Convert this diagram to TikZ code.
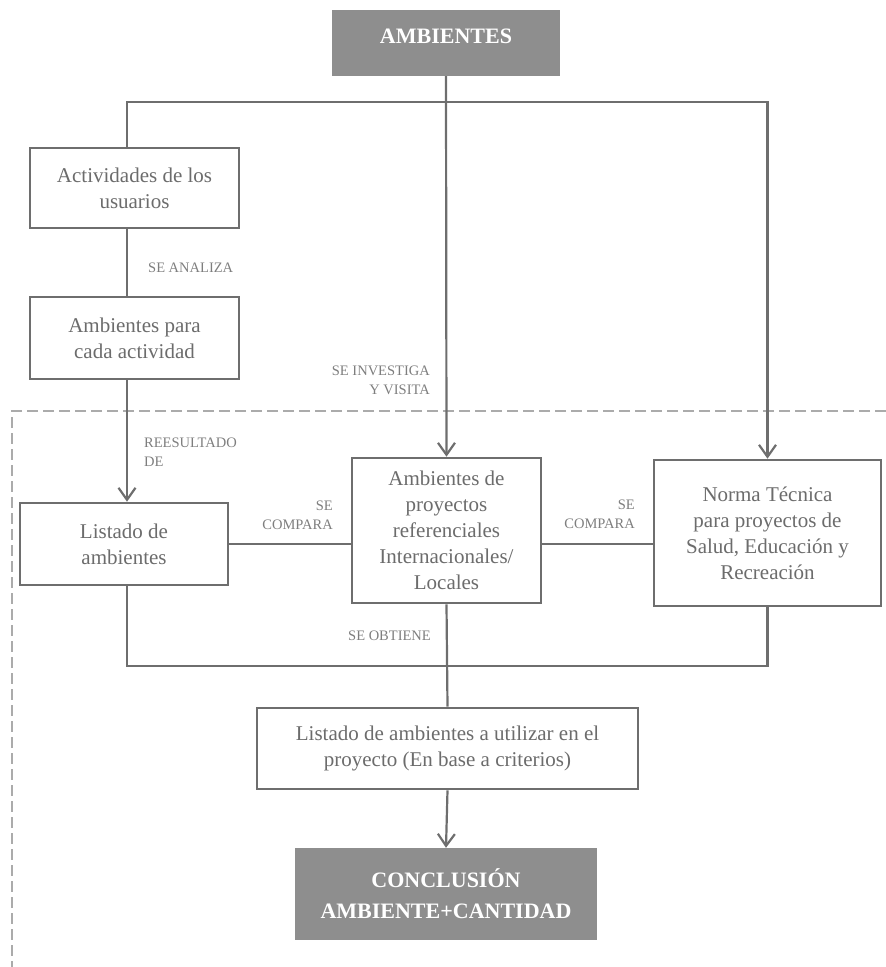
\documentclass[tikz,border=0pt]{standalone}
\usepackage{fontspec}
\setmainfont{Liberation Serif}
\usetikzlibrary{arrows.meta}
\definecolor{line-gray}{HTML}{6E6E6E}
\definecolor{text-gray}{HTML}{6C6C6C}
\definecolor{label-gray}{HTML}{7E7E7E}
\definecolor{head-gray}{HTML}{8E8E8E}
\definecolor{frame-gray}{HTML}{ABABAB}

\begin{document}
\begin{tikzpicture}[x=1pt, y=-1pt,
    every node/.style={inner sep=0pt, text=text-gray},
    box/.style={draw=line-gray, line width=2.6pt, fill=white, align=center,
      font=\fontsize{21}{26}\selectfont},
    headbox/.style={fill=head-gray, text=white, align=center,
      font=\fontsize{22}{31}\selectfont\bfseries},
    lbl/.style={text=label-gray, font=\fontsize{14.5}{19}\selectfont},
    link/.style={draw=line-gray, line width=2.2pt},
    tip/.style={-{Straight Barb[length=12pt, width=17pt]}}]
  \useasboundingbox (0,0) rectangle (886,967);
  % reference grid in pixels of the source: (x, y down)
  \coordinate (COL) at (127,0);
  \coordinate (TOP) at (0,102);
  \coordinate (BOT) at (0,666);

  % dashed frame around the comparison stage
  \draw[frame-gray, line width=2.6pt, dash pattern=on 11pt off 5pt]
    (886,411) -| (12,967);

  % boxes
  \node[headbox, minimum width=228pt, minimum height=66pt,
        text height=15pt, text depth=14pt] (AMB) at (446,43) {AMBIENTES};
  \node[box, minimum width=209pt, minimum height=80pt]
        (ACT) at (134.5,188) {Actividades de los\\usuarios};
  \node[box, minimum width=209pt, minimum height=82pt]
        (APC) at (134.5,338) {Ambientes para\\cada actividad};
  \node[box, minimum width=208pt, minimum height=82pt]
        (LIS) at (124,544) {Listado de\\ambientes};
  \node[box, minimum width=189pt, minimum height=145pt]
        (REF) at (446.5,530.5) {Ambientes de\\proyectos\\referenciales\\Internacionales/\\Locales};
  \node[box, minimum width=227pt, minimum height=146pt]
        (NOR) at (767.5,533) {Norma Técnica\\para proyectos de\\Salud, Educación y\\Recreación};
  \node[box, minimum width=381pt, minimum height=81pt]
        (LUT) at (447.5,748.5) {Listado de ambientes a utilizar en el\\proyecto (En base a criterios)};
  \node[headbox, minimum width=302pt, minimum height=92pt]
        (CON) at (446,894) {CONCLUSIÓN\\AMBIENTE+CANTIDAD};

  % labels
  \node[lbl, anchor=west] (L1) at (148,268) {SE ANALIZA};
  \node[lbl, anchor=west, align=left] (L2) at (144,452) {REESULTADO\\DE};
  \node[lbl, anchor=east, align=right] (L3) at (430,380) {SE INVESTIGA\\Y VISITA};
  \node[lbl, anchor=east, align=right] (L4) at (333,515) {SE\\COMPARA};
  \node[lbl, anchor=east, align=right] (L5) at (635,514) {SE\\COMPARA};
  \node[lbl, anchor=west] (L6) at (348,636) {SE OBTIENE};

  % connectors
  \draw[link, tip] (AMB.south) -- (REF.north);
  \draw[link, tip] (ACT.north -| COL) |- (TOP -| NOR.north) -- (NOR.north);
  \draw[link] (ACT.south -| COL) -- (APC.north -| COL);
  \draw[link, tip] (APC.south -| COL) -- (LIS.north -| COL);
  \draw[link] (LIS.east) -- (LIS.east -| REF.west);
  \draw[link] (REF.east |- LIS.east) -- (NOR.west |- LIS.east);
  \draw[link] (LIS.south -| COL) |- (BOT -| NOR.south) -- (NOR.south);
  \draw[link] (REF.south) -- (LUT.north);
  \draw[link, tip] (LUT.south) -- (CON.north);
\end{tikzpicture}
\end{document}
